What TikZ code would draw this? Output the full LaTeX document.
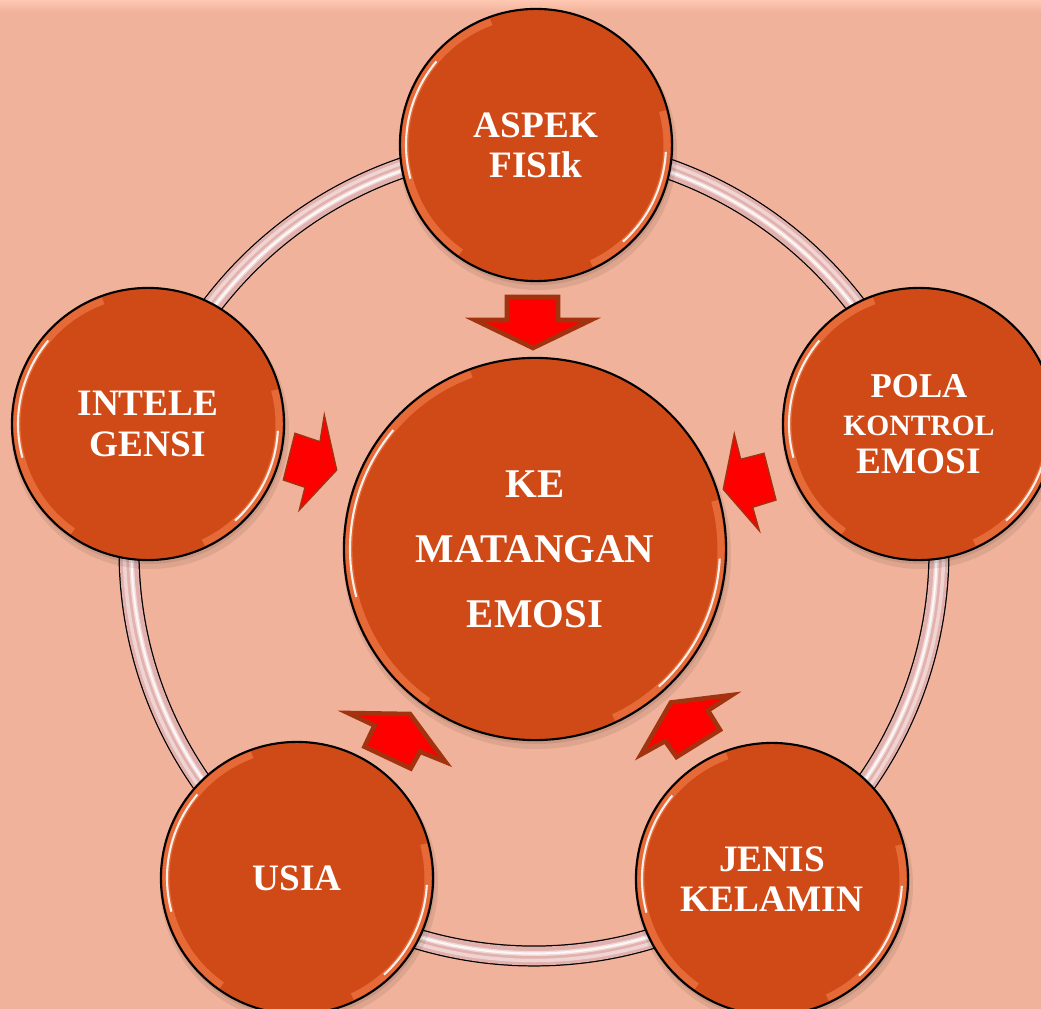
\documentclass[tikz,border=0pt]{standalone}
\usepackage{fontspec}
\setmainfont{Liberation Serif}
\definecolor{bgc}{HTML}{F0B29B}
\definecolor{topc}{HTML}{FFC8B2}
\definecolor{circ}{HTML}{D04A17}
\definecolor{glowc}{HTML}{F4804F}
\definecolor{arrred}{HTML}{FF0000}
\definecolor{arrbrown}{HTML}{A3320F}
\definecolor{ringpink}{HTML}{E2B1AD}
\begin{document}
\begin{tikzpicture}[x=0.01cm,y=-0.01cm,
  bubble/.style={circle, fill=circ, draw=black, line width=0.6pt, text=white,
    font=\bfseries\fontsize{10.6}{11.4}\selectfont, align=center, inner sep=0pt},
  small/.style={minimum size=2.72cm},
  big/.style={minimum size=3.82cm, font=\bfseries\fontsize{11.6}{18.5}\selectfont},
  arrthick/.style={fill=arrred, draw=arrbrown, line width=1.3pt, line join=miter},
  arrthin/.style={fill=arrred, draw=arrbrown, line width=0.4pt, line join=miter},
  glowst/.style={glowc, line width=2pt, opacity=0.6},
  whitest/.style={white, line width=0.6pt, opacity=0.9}]
\clip (0,0) rectangle (1041,1009);
\useasboundingbox (0,0) rectangle (1041,1009);
\fill[bgc] (0,0) rectangle (1041,1009);
\shade[top color=topc, bottom color=bgc] (0,0) rectangle (1041,12);
% ring
\coordinate (rc) at (534,551);
\draw[black, line width=6pt] (rc) circle[radius=405];
\draw[ringpink, line width=5.3pt] (rc) circle[radius=405];
\draw[white, line width=1.4pt, opacity=0.5] (rc) circle[radius=402.5];
\draw[white, line width=0.6pt, opacity=0.8] (rc) circle[radius=402.5];
\draw[white, line width=1pt, opacity=0.45] (rc) circle[radius=409.5];
% shadows
\foreach \cx/\cy/\r in {536/145/136, 919/424/136, 148/424/136, 297/878/136, 772/879/136, 535/549/191}{
  \fill[black, opacity=0.08] (\cx+2,\cy+6) circle[radius=\r+3];
  \fill[black, opacity=0.08] (\cx+1,\cy+3) circle[radius=\r+1];
}
% circles
\node[bubble, small] (aspek) at (536,145) {ASPEK\\FISIk};
\node[bubble, small] (pola) at (919,424) {\fontsize{9.9}{10.8}\selectfont POLA\\[-0.5pt]{\fontsize{8.4}{10.8}\selectfont KONTROL}\\[-0.5pt]EMOSI};
\node[bubble, small] (intel) at (148,424) {INTELE\\GENSI};
\node[bubble, small] (usia) at (297,878) {USIA};
\node[bubble, small] (jenis) at (772,879) {JENIS\\KELAMIN};
\node[bubble, big] (kem) at (535,549) {KE\\MATANGAN\\EMOSI};
% glossy highlights
\foreach \cx/\cy/\r in {536/145/136, 919/424/136, 148/424/136, 297/878/136, 772/879/136, 535/549/191}{
  \pgfmathsetmacro\rr{\r-6}
  \pgfmathsetmacro\rg{\r-5}
  \draw[glowst] ([shift={(-110:\rg)}]\cx,\cy) arc[start angle=-110, end angle=-235, radius=\rg];
  \draw[whitest] ([shift={(-140:\rr)}]\cx,\cy) arc[start angle=-140, end angle=-195, radius=\rr];
  \draw[glowst] ([shift={(65:\rg)}]\cx,\cy) arc[start angle=65, end angle=-15, radius=\rg];
  \draw[whitest] ([shift={(48:\rr)}]\cx,\cy) arc[start angle=48, end angle=3, radius=\rr];
}
% block arrows
\draw[arrthick] (507,297) -- (558,297) -- (558,320) -- (591,320) -- (533,348) -- (475,320) -- (507,320) -- cycle;
\draw[arrthin] (324.3,415) -- (320,441.7) -- (295,433.3) -- (283.3,480) -- (305,487.3) -- (299.3,510) -- (336.7,470) -- cycle;
\draw[arrthin] (734.3,434) -- (740.7,459.3) -- (764,453.3) -- (776,500) -- (752.7,507.3) -- (759.3,530.7) -- (723.3,489.3) -- cycle;
\draw[arrthick] (348,713) -- (410,714) -- (445.5,762) -- (420,751.7) -- (410.7,768.5) -- (364.5,746.7) -- (374.5,725.5) -- cycle;
\draw[arrthick] (732,695) -- (670.9,702.5) -- (641,754.5) -- (665.2,741.1) -- (676.5,757) -- (720,729.9) -- (708,710.5) -- cycle;
\end{tikzpicture}
\end{document}
